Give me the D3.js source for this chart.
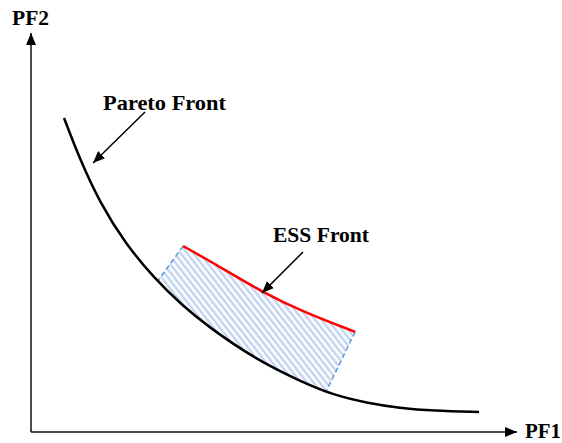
<!DOCTYPE html>
<html>
<head>
<meta charset="utf-8">
<script src="https://cdn.jsdelivr.net/npm/d3@7"></script>
<style>
  body { margin: 0; background: #fff; }
  text { font-family: "Liberation Serif", "Times New Roman", serif; font-weight: bold; font-size: 21px; fill: #000; }
</style>
</head>
<body>
<div id="chart"></div>
<script>
const W = 562, H = 443;

// Pareto front (PF1, PF2) in axis units
const paretoX = [0.68, 1.01, 1.42, 1.93, 2.55, 3.11, 3.62, 4.65, 5.53, 6.21, 6.91, 7.59, 8.27, 9.22];
const paretoY = [7.87, 6.82, 5.74, 4.74, 3.83, 3.18, 2.66, 1.80, 1.28, 0.93, 0.73, 0.60, 0.53, 0.50];

// ESS front
const essX = [3.13, 3.89, 4.75, 5.60, 6.67];
const essY = [4.66, 4.14, 3.51, 3.01, 2.51];

// where the dashed bounds meet the pareto front
const dashFootX = [2.61, 6.07];

const axisLabels = ["PF1", "PF2"];
const frontLabels = ["Pareto Front", "ESS Front"];

const x = d3.scaleLinear().domain([0, 10]).range([31, 517]);
const y = d3.scaleLinear().domain([0, 10]).range([432, 33]);

const svg = d3.select("#chart").append("svg")
    .attr("width", W)
    .attr("height", H);

const defs = svg.append("defs");

// arrow heads
defs.append("marker")
    .attr("id", "head")
    .attr("viewBox", "0 0 12 10")
    .attr("refX", 12)
    .attr("refY", 5)
    .attr("markerWidth", 12)
    .attr("markerHeight", 10)
    .attr("markerUnits", "userSpaceOnUse")
    .attr("orient", "auto")
    .append("path")
    .attr("d", "M0,0 L12,5 L0,10 Z")
    .attr("fill", "#000");

// hatch for the area between fronts
const pat = defs.append("pattern")
    .attr("id", "hatch")
    .attr("width", 5)
    .attr("height", 5)
    .attr("patternUnits", "userSpaceOnUse")
    .attr("patternTransform", "rotate(-38)");
pat.append("line")
    .attr("x1", 1.5).attr("y1", 0)
    .attr("x2", 1.5).attr("y2", 5)
    .attr("stroke", "#bccfee")
    .attr("stroke-width", 2.2);

const line = d3.line()
    .x(d => x(d[0]))
    .y(d => y(d[1]))
    .curve(d3.curveBasis);

const pareto = paretoX.map((v, i) => [v, paretoY[i]]);
const ess = essX.map((v, i) => [v, essY[i]]);

const hatchG = svg.append("g");

//pareto front
const paretoPath = svg.append("path")
    .datum(pareto)
    .attr("d", line)
    .attr("fill", "none")
    .attr("stroke", "#000")
    .attr("stroke-width", 2.5);

//sample the drawn pareto curve between the two dashed bounds for the hatch outline
const node = paretoPath.node();
const total = node.getTotalLength();
const x0 = x(dashFootX[0]), x1 = x(dashFootX[1]);
const lower = [];
for (let l = 0; l <= total; l += 1) {
    const p = node.getPointAtLength(l);
    if (p.x >= x0 && p.x <= x1) lower.push([p.x, p.y]);
}
lower.reverse();

// point on the curve at each dash foot, so the dashes land on it
function onCurve(px) {
    let best = null;
    for (let l = 0; l <= total; l += 0.5) {
        const p = node.getPointAtLength(l);
        if (!best || Math.abs(p.x - px) < Math.abs(best.x - px)) best = p;
    }
    return best;
}
const feet = [onCurve(x0), onCurve(x1)];

const essPath = svg.append("path")
    .datum(ess)
    .attr("d", line)
    .attr("fill", "none")
    .attr("stroke", "#ff0000")
    .attr("stroke-width", 2.5);

const en = essPath.node();
const eLen = en.getTotalLength();
const upper = [];
for (let l = 0; l <= eLen; l += 1) {
    const p = en.getPointAtLength(l);
    upper.push([p.x, p.y]);
}
const endPt = en.getPointAtLength(eLen);
upper.push([endPt.x, endPt.y]);

const poly = upper
    .concat([[feet[1].x, feet[1].y]])
    .concat(lower)
    .concat([[feet[0].x, feet[0].y]]);

hatchG.append("path")
    .attr("d", "M" + poly.map(p => p.join(",")).join("L") + "Z")
    .attr("fill", "url(#hatch)");

//dashed bounds
hatchG.selectAll("line.bound")
    .data([0, 1])
    .join("line")
    .attr("class", "bound")
    .attr("x1", i => i === 0 ? x(essX[0]) : x(essX[essX.length - 1]))
    .attr("y1", i => i === 0 ? y(essY[0]) : y(essY[essY.length - 1]))
    .attr("x2", i => feet[i].x)
    .attr("y2", i => feet[i].y)
    .attr("stroke", "#5b9bd5")
    .attr("stroke-width", 1.5)
    .attr("stroke-dasharray", "5,3");

//axes with arrows
svg.append("line")
    .attr("x1", x(0)).attr("y1", y(0))
    .attr("x2", x(10)).attr("y2", y(0))
    .attr("stroke", "#111")
    .attr("stroke-width", 1.5)
    .attr("marker-end", "url(#head)");
svg.append("line")
    .attr("x1", x(0)).attr("y1", y(0))
    .attr("x2", x(0)).attr("y2", y(10))
    .attr("stroke", "#111")
    .attr("stroke-width", 1.5)
    .attr("marker-end", "url(#head)");

svg.append("text").attr("x", 525).attr("y", 438)
    .attr("textLength", 36).attr("lengthAdjust", "spacingAndGlyphs").text(axisLabels[0]);
svg.append("text").attr("x", 12).attr("y", 25)
    .attr("textLength", 37).attr("lengthAdjust", "spacingAndGlyphs").text(axisLabels[1]);

//annotations
svg.append("text").attr("x", 103).attr("y", 110)
    .attr("textLength", 123).attr("lengthAdjust", "spacingAndGlyphs").text(frontLabels[0]);
svg.append("text").attr("x", 273).attr("y", 242)
    .attr("textLength", 96).attr("lengthAdjust", "spacingAndGlyphs").text(frontLabels[1]);

svg.append("line")
    .attr("x1", 145).attr("y1", 112)
    .attr("x2", 93).attr("y2", 163)
    .attr("stroke", "#000")
    .attr("stroke-width", 1.5)
    .attr("marker-end", "url(#head)");
svg.append("line")
    .attr("x1", 303).attr("y1", 252)
    .attr("x2", 262).attr("y2", 293)
    .attr("stroke", "#000")
    .attr("stroke-width", 1.5)
    .attr("marker-end", "url(#head)");
</script>
</body>
</html>
